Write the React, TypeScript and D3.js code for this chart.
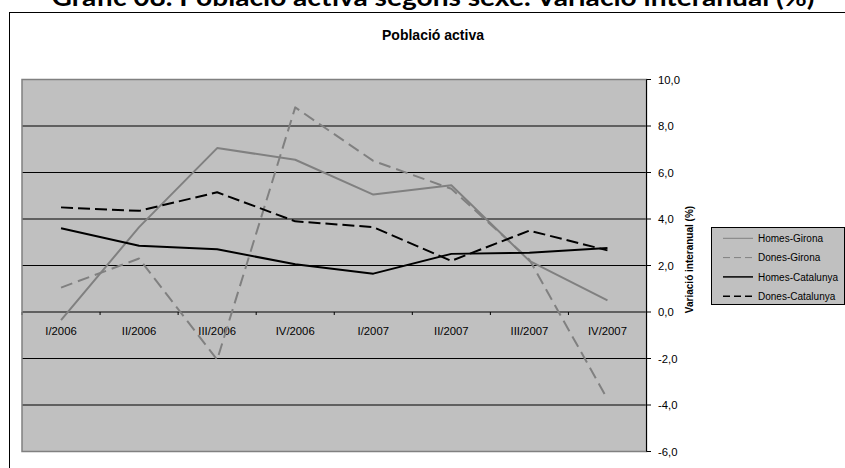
import React from "react";
import * as d3 from "d3";

const categories = ["I/2006", "II/2006", "III/2006", "IV/2006", "I/2007", "II/2007", "III/2007", "IV/2007"];
const homesGirona = [-0.35, 3.65, 7.05, 6.55, 5.05, 5.45, 2.2, 0.5];
const donesGirona = [1.05, 2.3, -2.05, 8.8, 6.5, 5.3, 2.25, -3.75];
const homesCatalunya = [3.6, 2.85, 2.7, 2.05, 1.65, 2.5, 2.55, 2.75];
const donesCatalunya = [4.5, 4.35, 5.15, 3.9, 3.65, 2.2, 3.5, 2.65];
const yTicks = [-6, -4, -2, 0, 2, 4, 6, 8, 10];
const seriesNames = ["Homes-Girona", "Dones-Girona", "Homes-Catalunya", "Dones-Catalunya"];

const W = 845;
const H = 468;
const FONT = "'Liberation Sans', Arial, sans-serif";

export default function App() {
  const plot = { left: 22, right: 646.5, top: 79.5, bottom: 451.5 };
  const x = d3.scaleBand<string>().domain(categories).range([plot.left, plot.right]).paddingInner(0).paddingOuter(0);
  const y = d3.scaleLinear().domain([-6, 10]).range([plot.bottom, plot.top]);
  const cx = (c: string) => (x(c) as number) + x.bandwidth() / 2;

  const series = [
    { name: seriesNames[0], values: homesGirona, color: "#808080", dash: "none" },
    { name: seriesNames[1], values: donesGirona, color: "#808080", dash: "12,6" },
    { name: seriesNames[2], values: homesCatalunya, color: "#000000", dash: "none" },
    { name: seriesNames[3], values: donesCatalunya, color: "#000000", dash: "12,5" },
  ];

  const line = d3
    .line<number>()
    .x((_, i) => cx(categories[i]))
    .y((d) => y(d));

  const fmt = (v: number) => v.toFixed(1).replace(".", ",");
  const boundaries = categories.map((c) => x(c) as number).concat([plot.right]);

  const legend = { x: 711.5, y: 227.5, w: 133, h: 77 };
  const legendRowY = (i: number) => 238.3 + i * 19.3;

  return (
    <svg width={W} height={H} style={{ position: "absolute", left: 0, top: 0, background: "#fff" }} fontFamily={FONT}>
      {/* main title (partially cut off) */}
      <text
        x={433}
        y={6}
        textAnchor="middle"
        fontFamily="Lato, 'Open Sans', sans-serif"
        fontWeight="bold"
        fontSize={24}
        textLength={763}
        lengthAdjust="spacingAndGlyphs"
        fill="#000"
      >
        Gràfic 08. Població activa segons sexe. Variació interanual (%)
      </text>

      {/* chart frame */}
      <rect x={9.5} y={12.5} width={900} height={500} fill="#fff" stroke="#000" strokeWidth={1} />

      {/* chart title */}
      <text x={433} y={40} textAnchor="middle" fontWeight="bold" fontSize={14} fill="#000">
        Població activa
      </text>

      {/* plot area */}
      <rect x={plot.left} y={plot.top} width={plot.right - plot.left} height={plot.bottom - plot.top} fill="#C0C0C0" />

      {/* gridlines */}
      {yTicks
        .filter((t) => t !== -6 && t !== 10 && t !== 0)
        .map((t) => (
          <line key={"g" + t} x1={plot.left} x2={plot.right} y1={y(t)} y2={y(t)} stroke="#000" strokeWidth={1} />
        ))}

      {/* category axis at 0 */}
      <line x1={plot.left} x2={plot.right} y1={y(0)} y2={y(0)} stroke="#000" strokeWidth={1} />
      {boundaries.map((b, i) => (
        <line key={"t" + i} x1={b} x2={b} y1={y(0)} y2={y(0) + 3} stroke="#000" strokeWidth={1} />
      ))}
      {categories.map((c) => (
        <text key={c} x={cx(c)} y={y(0) + 23} textAnchor="middle" fontSize={11.3} fill="#000">
          {c}
        </text>
      ))}

      {/* series */}
      {series.map((s) => (
        <path
          key={s.name}
          d={line(s.values) || ""}
          fill="none"
          stroke={s.color}
          strokeWidth={2}
          strokeDasharray={s.dash === "none" ? undefined : s.dash}
          strokeLinejoin="round"
        />
      ))}

      {/* plot border */}
      <rect
        x={plot.left}
        y={plot.top}
        width={plot.right - plot.left}
        height={plot.bottom - plot.top}
        fill="none"
        stroke="#808080"
        strokeWidth={1.5}
      />

      {/* value axis on the right */}
      <line x1={plot.right} x2={plot.right} y1={plot.top} y2={plot.bottom} stroke="#000" strokeWidth={1} />
      {yTicks.map((t) => (
        <g key={"y" + t}>
          <line x1={plot.right} x2={plot.right + 4.5} y1={y(t)} y2={y(t)} stroke="#000" strokeWidth={1} />
          <text x={658} y={y(t) + 4} fontSize={11.3} fill="#000">
            {fmt(t)}
          </text>
        </g>
      ))}
      <text
        transform={`translate(693,259.5) rotate(-90)`}
        textAnchor="middle"
        fontWeight="bold"
        fontSize={10}
        fill="#000"
      >
        Variació interanual (%)
      </text>

      {/* legend */}
      <rect x={legend.x} y={legend.y} width={legend.w} height={legend.h} fill="#C0C0C0" stroke="#000" strokeWidth={1} />
      {series.map((s, i) => (
        <g key={"l" + s.name}>
          <line
            x1={723}
            x2={753}
            y1={legendRowY(i)}
            y2={legendRowY(i)}
            stroke={s.color}
            strokeWidth={s.color === "#000000" ? 1.5 : 1}
            strokeDasharray={s.dash === "none" ? undefined : "7,4"}
          />
          <text x={758} y={legendRowY(i) + 3.6} fontSize={10} fill="#000">
            {s.name}
          </text>
        </g>
      ))}
    </svg>
  );
}
